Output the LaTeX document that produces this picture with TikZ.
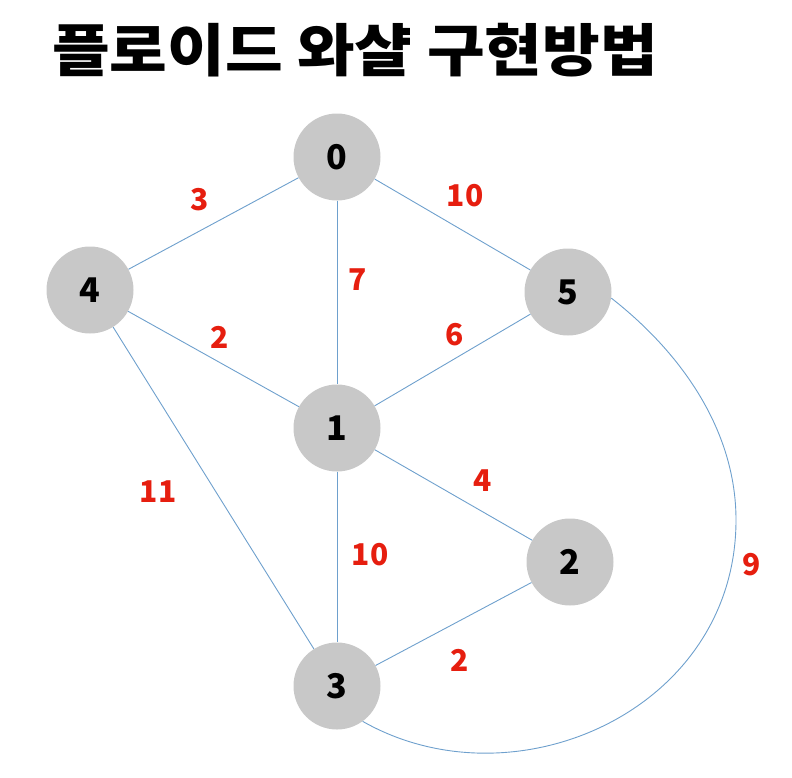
\documentclass[tikz,border=0pt]{standalone}
\usepackage{fontspec}
\setmainfont{Noto Sans CJK KR}
\usetikzlibrary{positioning}
\definecolor{vgray}{RGB}{200,200,200}
\definecolor{eblue}{RGB}{110,160,205}
\definecolor{wred}{RGB}{230,30,15}
\tikzset{vert/.style={circle, fill=vgray, minimum size=87pt, inner sep=0pt, font=\bfseries\fontsize{34}{34}\selectfont},
  edge/.style={eblue, line width=0.9pt},
  wt/.style={wred, font=\bfseries\fontsize{30}{30}\selectfont}}

\begin{document}
\begin{tikzpicture}[x=1pt, y=1pt]
  \useasboundingbox (0,0) rectangle (792,-777);
  % title
  \node[anchor=west, inner sep=0pt, font=\bfseries\fontsize{57}{57}\selectfont] (title) at (52,-50) {\scalebox{1.1}[1]{플로이드 와샬 구현방법}};
  % vertices
  \node[vert] (n0) at (337,-157) {0};
  \node[vert] (n4) at (90,-290) {4};
  \node[vert] (n5) at (568,-292) {5};
  \node[vert] (n1) at (337,-428) {1};
  \node[vert] (n2) at (570,-562) {2};
  \node[vert] (n3) at (337,-686) {3};
  \coordinate (arcR) at (736,-520);
  % edges
  \draw[edge] (n0) -- (n4);
  \draw[edge] (n0) -- (n1);
  \draw[edge] (n0) -- (n5);
  \draw[edge] (n4) -- (n1);
  \draw[edge] (n4) -- (n3);
  \draw[edge] (n5) -- (n1);
  \draw[edge] (n1) -- (n2);
  \draw[edge] (n1) -- (n3);
  \draw[edge] (n2) -- (n3);
  \draw[edge] (n5.-8) to[out=-38, in=90, looseness=0.9] (arcR) .. controls (736,-710) and (515,-808) .. (n3.-54);
  % weights
  \node[wt] (w04) at (200,-200) {3};
  \node[wt] (w05) at (465,-196) {10};
  \node[wt] (w01) at (358,-280) {7};
  \node[wt] (w41) at (220,-337) {2};
  \node[wt] (w51) at (455,-335) {6};
  \node[wt] (w43) at (158,-492) {11};
  \node[wt] (w12) at (483,-481) {4};
  \node[wt] (w13) at (370,-555) {10};
  \node[wt] (w23) at (460,-660) {2};
  \node[wt] (w53) at (752,-565) {9};
\end{tikzpicture}
\end{document}
